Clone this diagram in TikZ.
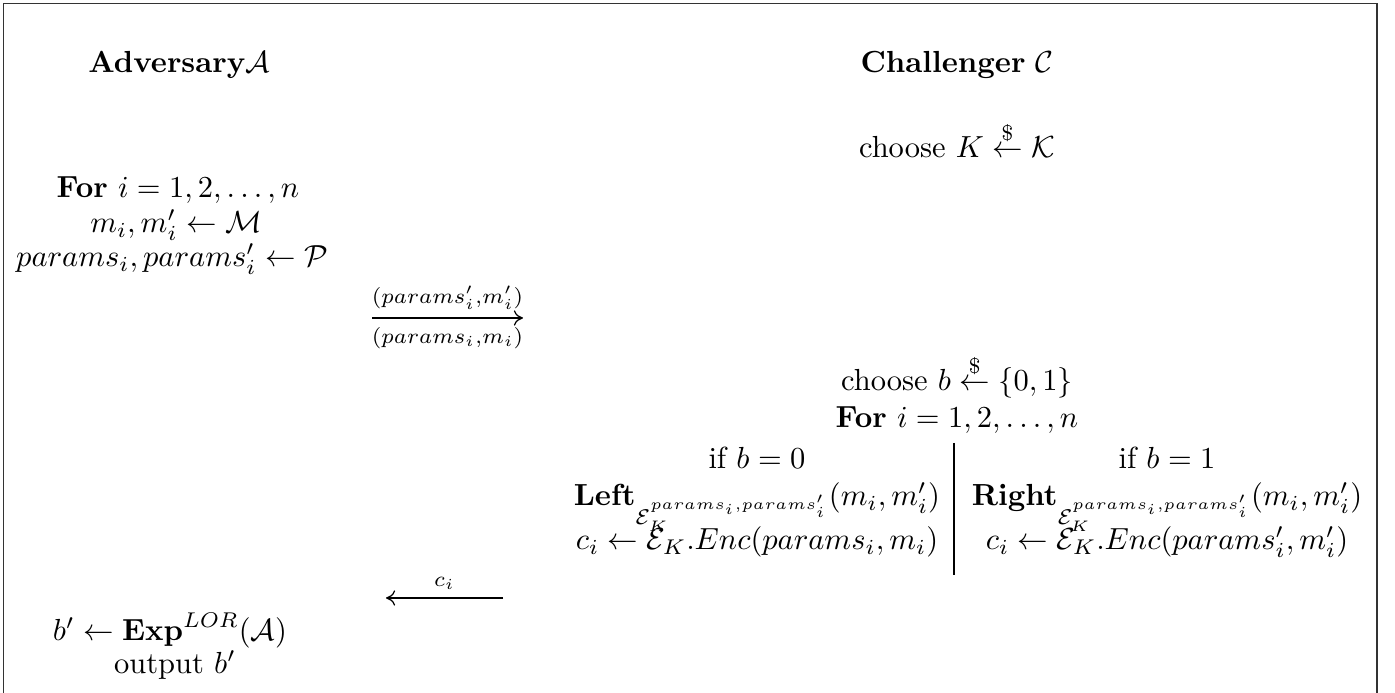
\documentclass[tikz,border=0pt]{standalone}
\usepackage{amsmath}
\usetikzlibrary{arrows.meta}
\begin{document}
\begin{tikzpicture}[x=0.3279pt,y=-0.3279pt,
  txt/.style={anchor=base,inner sep=0pt,outer sep=0pt},
  lbl/.style={inner sep=2pt},
  msg/.style={-{To[length=3pt,width=5pt]},line width=0.4pt},
  frame/.style={line width=0.6pt,draw=black!80}]
\useasboundingbox (0,0) rectangle (1395,693);
\draw[frame] (3.5,693) -- (3.5,3.5) -- (1377,3.5) -- (1377,693);
% headers
\node[txt] (advT) at (179,73) {\textbf{Adversary}$\mathcal{A}$};
\node[txt] (chT) at (957,73) {\textbf{Challenger} $\mathcal{C}$};
% challenger key
\node[txt] (chK) at (957,158) {choose $K \stackrel{\$}{\leftarrow} \mathcal{K}$};
% adversary loop
\node[txt] (aFor) at (178,198) {\textbf{For} $i=1,2,\dots,n$};
\node[txt] (aM) at (176,233) {$m_i, m_i' \leftarrow \mathcal{M}$};
\node[txt] (aP) at (172,267) {$params_i, params_i' \leftarrow \mathcal{P}$};
% query message
\coordinate (q1s) at (372,318);
\coordinate (q1e) at (523,318);
\draw[msg] (q1s) -- node[above,lbl,inner sep=2.5pt] (q1a) {$\scriptstyle(params_i',m_i')$} node[below,lbl,inner sep=3pt] (q1b) {$\scriptstyle(params_i,m_i)$} (q1e);
% challenger
\node[txt] (chB) at (957,391) {choose $b \stackrel{\$}{\leftarrow} \{0,1\}$};
\node[txt] (cFor) at (957,428) {\textbf{For} $i=1,2,\dots,n$};
\node[txt] (if0) at (757,469) {if $b=0$};
\node[txt] (if1) at (1167,469) {if $b=1$};
\node[txt] (left) at (757,506) {$\mathbf{Left}_{\mathcal{E}_K^{params_i,params_i'}}(m_i,m_i')$};
\node[txt] (right) at (1167,506) {$\mathbf{Right}_{\mathcal{E}_K^{params_i,params_i'}}(m_i,m_i')$};
\node[txt] (c0) at (757,550) {$c_i \leftarrow \mathcal{E}_K.Enc(params_i,m_i)$};
\node[txt] (c1) at (1167,550) {$c_i \leftarrow \mathcal{E}_K.Enc(params_i',m_i')$};
\coordinate (vt) at (954,443);
\coordinate (vb) at (954,575);
\draw[line width=0.4pt] (vt) -- (vb);
% reply message
\coordinate (r1s) at (503,598);
\coordinate (r1e) at (386,598);
\draw[msg] (r1s) -- node[above,lbl,inner sep=2.5pt] (r1a) {$\scriptstyle c_i$} (r1e);
% adversary output
\node[txt] (bp) at (170,641) {$b' \leftarrow \mathbf{Exp}^{LOR}(\mathcal{A})$};
\node[txt] (out) at (175,674) {output $b'$};
\end{tikzpicture}
\end{document}
